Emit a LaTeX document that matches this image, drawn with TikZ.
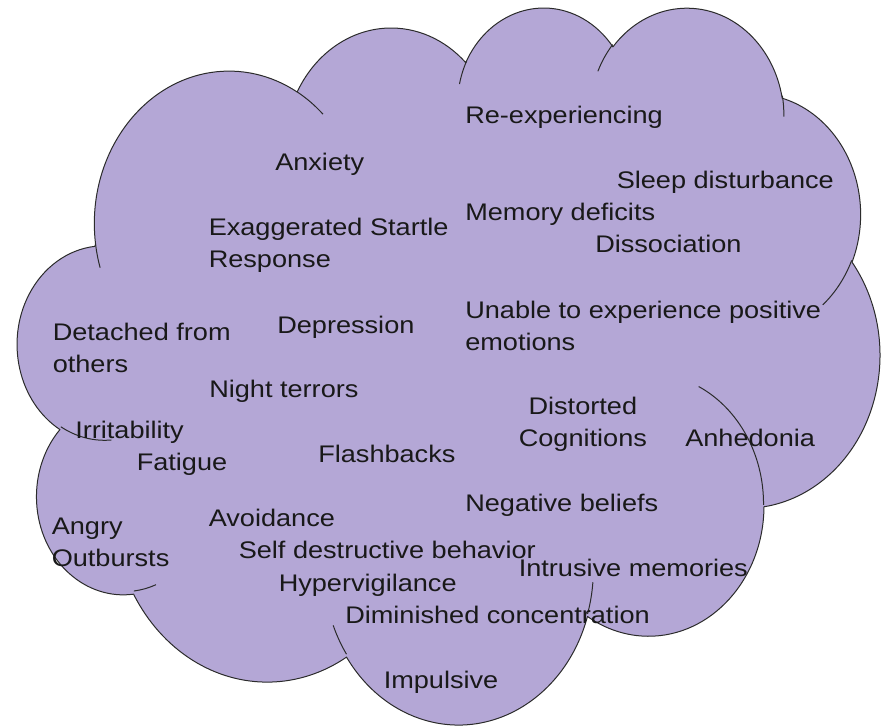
\documentclass[tikz,border=0pt]{standalone}
\usepackage{fontspec}
\setmainfont{Liberation Sans}[FakeStretch=1.13]
\usepackage{xcolor}
\usepackage{tikz}

\definecolor{cloudfill}{HTML}{B4A7D6}
\definecolor{cloudline}{HTML}{2B2B2B}

% one bump of the cloud: x radius, y radius, start angle, sweep (angles as seen, not parametric)
\newcommand{\bump}[4]{arc[x radius=#1, y radius=#2,
  start angle={atan2(#1*sin(#3),#2*cos(#3))},
  delta angle={mod(atan2(#1*sin(#3+#4),#2*cos(#3+#4))-atan2(#1*sin(#3),#2*cos(#3))+720,360)}]}

\begin{document}
\begin{tikzpicture}[x=0.75pt,y=-0.75pt,
    cloud/.style={fill=cloudfill,draw=cloudline,line width=0.75pt,line join=round},
    cloudseam/.style={draw=cloudline,line width=0.75pt},
    symptom/.style={anchor=base west,inner sep=0pt,align=left,
      font=\fontsize{18}{24}\selectfont,text=black!90}]
  \useasboundingbox (0,0) rectangle (888,726);

  % the cloud outline and its inner seams
  \begin{scope}[shift={(17.76,5.69)},x=14.963pt,y=-12.443pt]
    \draw[cloud] (3.9,14.37)
      \bump{6.753}{9.19}{-190.48748}{123.78053}
      \bump{5.333}{7.267}{-144.10238}{89.94523}
      \bump{4.365}{5.945}{-145.80792}{99.72302}
      \bump{4.857}{6.595}{-130.98607}{117.24173}
      \bump{5.333}{7.273}{-78.70888}{109.02692}
      \bump{6.775}{9.22}{-46.26725}{130.269}
      \bump{5.785}{7.867}{0.62502}{114.03333}
      \bump{6.752}{9.215}{22.4516}{115.17255}
      \bump{7.72}{10.543}{66.24263}{75.71102}
      \bump{4.36}{5.918}{-274.94208}{146.73557}
      \bump{4.345}{5.945}{-246.8285}{152.51885}
      -- cycle;
    \draw[cloudseam]
      (4.693,26.177) \bump{4.345}{5.945}{86.742}{26.4295}
      (6.928,34.899) \bump{4.36}{5.918}{73.61047}{11.44747}
      (16.478,39.09) \bump{6.752}{9.215}{137.62415}{14.0811}
      (28.827,34.751) \bump{6.752}{9.215}{6.45327}{15.99835}
      (34.129,22.954) \bump{5.785}{7.867}{-70.29235}{70.91737}
      (41.798,15.354) \bump{5.333}{7.273}{30.31803}{27.7515}
      (38.324,5.426) \bump{4.857}{6.595}{-13.74433}{14.8589}
      (29.078,3.952) \bump{4.857}{6.595}{-149.18145}{18.19537}
      (22.141,4.72) \bump{4.365}{5.945}{-163.49427}{17.68635}
      (14.0,5.192) \bump{6.753}{9.19}{-66.70695}{12.31935}
      (4.127,15.789) \bump{6.753}{9.19}{157.65435}{11.85817};
  \end{scope}

  % symptoms (two-line ones sit on the baseline of their last line)
  \node[symptom] (reexp) at (465,123.5) {Re-experiencing};
  \node[symptom] (anxiety) at (275,170.5) {Anxiety};
  \node[symptom] (sleep) at (616.5,188.5) {Sleep disturbance};
  \node[symptom] (memory) at (465,220) {Memory deficits};
  \node[symptom] (startle) at (208.5,267) {Exaggerated Startle\\Response};
  \node[symptom] (dissoc) at (595,252.5) {Dissociation};
  \node[symptom] (unable) at (465,350) {Unable to experience positive\\emotions};
  \node[symptom] (depress) at (277,333) {Depression};
  \node[symptom] (detached) at (52.5,372.5) {Detached from\\others};
  \node[symptom] (night) at (209,397.5) {Night terrors};
  \node[symptom,align=center] (distorted) at (518.5,446.5) {Distorted\\Cognitions};
  \node[symptom] (irrit) at (75,438.5) {Irritability};
  \node[symptom] (anhedonia) at (685,446.5) {Anhedonia};
  \node[symptom] (flash) at (318,462) {Flashbacks};
  \node[symptom] (fatigue) at (136.5,470) {Fatigue};
  \node[symptom] (negative) at (465,511.5) {Negative beliefs};
  \node[symptom] (avoid) at (208.5,526.5) {Avoidance};
  \node[symptom] (angry) at (51.5,566.5) {Angry\\Outbursts};
  \node[symptom] (selfdestr) at (238.5,558) {Self destructive behavior};
  \node[symptom] (intrusive) at (518.5,576.5) {Intrusive memories};
  \node[symptom] (hyper) at (278.5,591) {Hypervigilance};
  \node[symptom] (diminished) at (345,623) {Diminished concentration};
  \node[symptom] (impulsive) at (383.5,688) {Impulsive};
\end{tikzpicture}
\end{document}
